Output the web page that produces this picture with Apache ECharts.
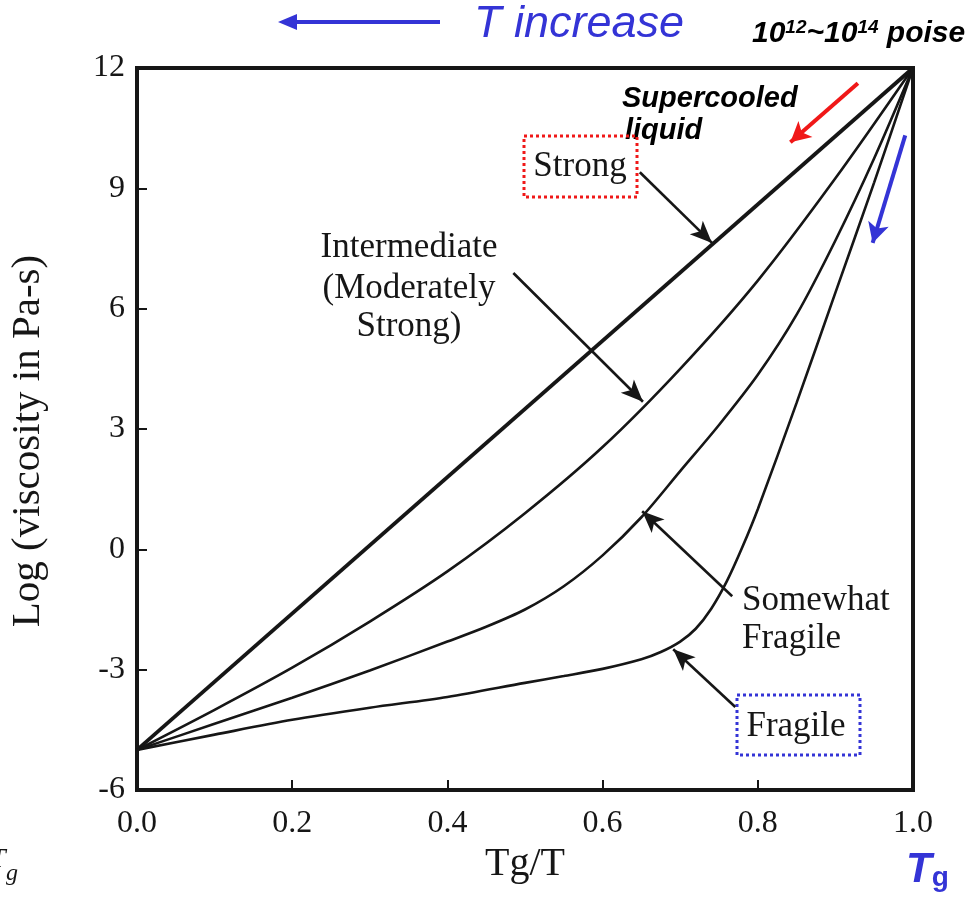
<!DOCTYPE html>
<html><head><meta charset="utf-8">
<script src="https://cdn.jsdelivr.net/npm/echarts@6/dist/echarts.min.js"></script>
<style>html,body{margin:0;padding:0;background:#fff}#c{width:977px;height:898px}</style>
</head><body><div id="c"></div>
<script>
// ---- data ----
const xTicks = [0, 0.2, 0.4, 0.6, 0.8, 1.0];
const yTicks = [-6, -3, 0, 3, 6, 9, 12];

const strongX = [0, 1.0];
const strongY = [-5, 12];
const intermediateX = [0, 0.1, 0.2, 0.3, 0.4, 0.5, 0.6, 0.7, 0.8, 0.9, 1.0];
const intermediateY = [-5, -4.0, -2.95, -1.8, -0.55, 0.9, 2.55, 4.5, 6.7, 9.25, 12];
const somewhatX = [0, 0.1, 0.2, 0.3, 0.4, 0.45, 0.5, 0.55, 0.6, 0.65, 0.7, 0.75, 0.8, 0.85, 0.9, 0.95, 1.0];
const somewhatY = [-5, -4.35, -3.7, -3.02, -2.3, -1.93, -1.5, -0.92, -0.15, 0.8, 1.95, 3.1, 4.35, 5.85, 7.7, 9.75, 12];
const fragileX = [0, 0.1, 0.2, 0.3, 0.4, 0.5, 0.55, 0.6, 0.65, 0.675, 0.7, 0.72, 0.74, 0.76, 0.78, 0.8, 0.85, 0.9, 0.95, 1.0];
const fragileY = [-5, -4.62, -4.25, -3.95, -3.68, -3.33, -3.16, -2.98, -2.74, -2.56, -2.3, -1.98, -1.48, -0.8, 0.05, 1.0, 3.65, 6.4, 9.15, 12];

// annotation arrows (start -> tip) in data coordinates
const arrowStrong = [[0.648, 9.4], [0.741, 7.64]];
const arrowIntermediate = [[0.485, 6.89], [0.652, 3.68]];
const arrowSomewhat = [[0.767, -1.17], [0.651, 0.95]];
const arrowFragile = [[0.771, -3.93], [0.691, -2.49]];
const arrowRed = [[0.929, 11.62], [0.842, 10.15]];
const arrowBlue = [[0.99, 10.32], [0.948, 7.64]];

const zip = (xs, ys) => xs.map((x, i) => [x, ys[i]]);
const serif = '"Liberation Serif", "Times New Roman", serif';
const sans = '"Liberation Sans", Arial, sans-serif';
const INK = '#161616';
const BLUE = '#3434d6';
const RED = '#f01818';

function arrowPair(a, color, w, size) {
  return [
    { coord: a[0], symbol: 'none', lineStyle: { color: color, width: w, type: 'solid' } },
    { coord: a[1], symbol: 'arrow', symbolSize: size }
  ];
}
function markArrows(list, color, w, size) {
  return {
    silent: true, animation: false,
    symbol: ['none', 'arrow'], symbolSize: size,
    label: { show: false },
    lineStyle: { color: color, width: w, type: 'solid' },
    itemStyle: { color: color },
    emphasis: { disabled: true },
    data: list.map(a => arrowPair(a, color, w, size))
  };
}

const chart = echarts.init(document.getElementById('c'), null, { renderer: 'canvas' });
const lineBase = { type: 'line', showSymbol: false, symbol: 'none', smooth: 0.3, silent: true, animation: false, z: 3 };

chart.setOption({
  backgroundColor: '#ffffff',
  animation: false,
  grid: { left: 137, right: 64, top: 68, bottom: 108, show: true, borderColor: INK, borderWidth: 4, backgroundColor: 'transparent' },
  xAxis: {
    type: 'value', min: xTicks[0], max: xTicks[xTicks.length - 1], interval: xTicks[1] - xTicks[0],
    axisLine: { show: true, onZero: false, lineStyle: { color: INK, width: 4 } },
    axisTick: { show: true, inside: true, length: 10, lineStyle: { color: INK, width: 2 } },
    axisLabel: { formatter: v => v.toFixed(1), fontFamily: serif, fontSize: 32, color: INK, margin: 18 },
    splitLine: { show: false },
    name: 'Tg/T', nameLocation: 'middle', nameGap: 48,
    nameTextStyle: { fontFamily: serif, fontSize: 40, color: INK, verticalAlign: 'top' }
  },
  yAxis: {
    type: 'value', min: yTicks[0], max: yTicks[yTicks.length - 1], interval: yTicks[1] - yTicks[0],
    axisLine: { show: true, onZero: false, lineStyle: { color: INK, width: 4 } },
    axisTick: { show: true, inside: true, length: 10, lineStyle: { color: INK, width: 2 } },
    axisLabel: { fontFamily: serif, fontSize: 32, color: INK, margin: 12 },
    splitLine: { show: false },
    name: 'Log (viscosity in Pa-s)', nameLocation: 'middle', nameGap: 88, nameRotate: 90,
    nameTextStyle: { fontFamily: serif, fontSize: 41, color: INK, padding: [0, 24, 0, 0] }
  },
  series: [
    Object.assign({}, lineBase, { name: 'Strong', data: zip(strongX, strongY), smooth: false, lineStyle: { color: INK, width: 3.8 },
      markLine: markArrows([arrowStrong, arrowIntermediate, arrowSomewhat, arrowFragile], INK, 2.6, [14, 22]) }),
    Object.assign({}, lineBase, { name: 'Intermediate', data: zip(intermediateX, intermediateY), lineStyle: { color: INK, width: 2.6 },
      markLine: markArrows([arrowRed], RED, 4, [16, 20]) }),
    Object.assign({}, lineBase, { name: 'Somewhat Fragile', data: zip(somewhatX, somewhatY), lineStyle: { color: INK, width: 2.6 },
      markLine: markArrows([arrowBlue], BLUE, 4, [16, 20]) }),
    Object.assign({}, lineBase, { name: 'Fragile', data: zip(fragileX, fragileY), lineStyle: { color: INK, width: 2.6 } })
  ],
  graphic: [
    // top annotation
    { type: 'line', shape: { x1: 440, y1: 22, x2: 292, y2: 22 }, style: { stroke: BLUE, lineWidth: 4 } },
    { type: 'polygon', shape: { points: [[278, 22], [297, 14], [297, 30]] }, style: { fill: BLUE } },
    { type: 'text', x: 474, y: 24, style: { text: 'T increase', font: 'italic 45px ' + sans, fill: BLUE, textAlign: 'left', textVerticalAlign: 'middle' } },
    { type: 'text', x: 752, y: 34, style: {
        text: '{a|10}{s|12}{a|~10}{s|14}{a| poise}',
        textAlign: 'left', textVerticalAlign: 'middle',
        rich: {
          a: { font: 'italic bold 30px ' + sans, fill: '#000', lineHeight: 32, verticalAlign: 'middle' },
          s: { font: 'italic bold 19px ' + sans, fill: '#000', lineHeight: 32, verticalAlign: 'top' }
        } } },
    // Supercooled liquid
    { type: 'text', x: 622, y: 99, style: { text: 'Supercooled', font: 'italic bold 29px ' + sans, fill: '#000', textAlign: 'left', textVerticalAlign: 'middle' } },
    { type: 'text', x: 625, y: 131, style: { text: 'liquid', font: 'italic bold 29px ' + sans, fill: '#000', textAlign: 'left', textVerticalAlign: 'middle' } },
    // Strong label + red dotted box
    { type: 'rect', shape: { x: 524, y: 136, width: 113, height: 61 }, style: { fill: 'none', stroke: RED, lineWidth: 3, lineDash: [3, 3] } },
    { type: 'text', x: 580, y: 167, style: { text: 'Strong', font: '35px ' + serif, fill: INK, textAlign: 'center', textVerticalAlign: 'middle' } },
    // Intermediate
    { type: 'text', x: 409, y: 248, style: { text: 'Intermediate', font: '35px ' + serif, fill: INK, textAlign: 'center', textVerticalAlign: 'middle' } },
    { type: 'text', x: 409, y: 289, style: { text: '(Moderately', font: '35px ' + serif, fill: INK, textAlign: 'center', textVerticalAlign: 'middle' } },
    { type: 'text', x: 409, y: 327, style: { text: 'Strong)', font: '35px ' + serif, fill: INK, textAlign: 'center', textVerticalAlign: 'middle' } },
    // Somewhat fragile
    { type: 'text', x: 742, y: 601, style: { text: 'Somewhat', font: '35px ' + serif, fill: INK, textAlign: 'left', textVerticalAlign: 'middle' } },
    { type: 'text', x: 742, y: 639, style: { text: 'Fragile', font: '35px ' + serif, fill: INK, textAlign: 'left', textVerticalAlign: 'middle' } },
    // Fragile + blue dotted box
    { type: 'rect', shape: { x: 737, y: 695, width: 123, height: 60 }, style: { fill: 'none', stroke: BLUE, lineWidth: 3, lineDash: [3, 3] } },
    { type: 'text', x: 796, y: 727, style: { text: 'Fragile', font: '35px ' + serif, fill: INK, textAlign: 'center', textVerticalAlign: 'middle' } },
    // Tg bottom right
    { type: 'text', x: 906, y: 870, style: {
        text: '{T|T}{g|g}', textAlign: 'left', textVerticalAlign: 'middle',
        rich: {
          T: { font: 'italic bold 42px ' + sans, fill: BLUE, lineHeight: 44, verticalAlign: 'middle' },
          g: { font: 'bold 28px ' + sans, fill: BLUE, lineHeight: 44, verticalAlign: 'bottom' }
        } } },
    // partially visible T_g at bottom-left
    { type: 'text', x: -10, y: 860, style: { text: 'T', font: 'italic 28px ' + serif, fill: INK, textAlign: 'left', textVerticalAlign: 'middle' } },
    { type: 'text', x: 6, y: 874, style: { text: 'g', font: 'italic 24px ' + serif, fill: INK, textAlign: 'left', textVerticalAlign: 'middle' } }
  ]
});
</script></body></html>
